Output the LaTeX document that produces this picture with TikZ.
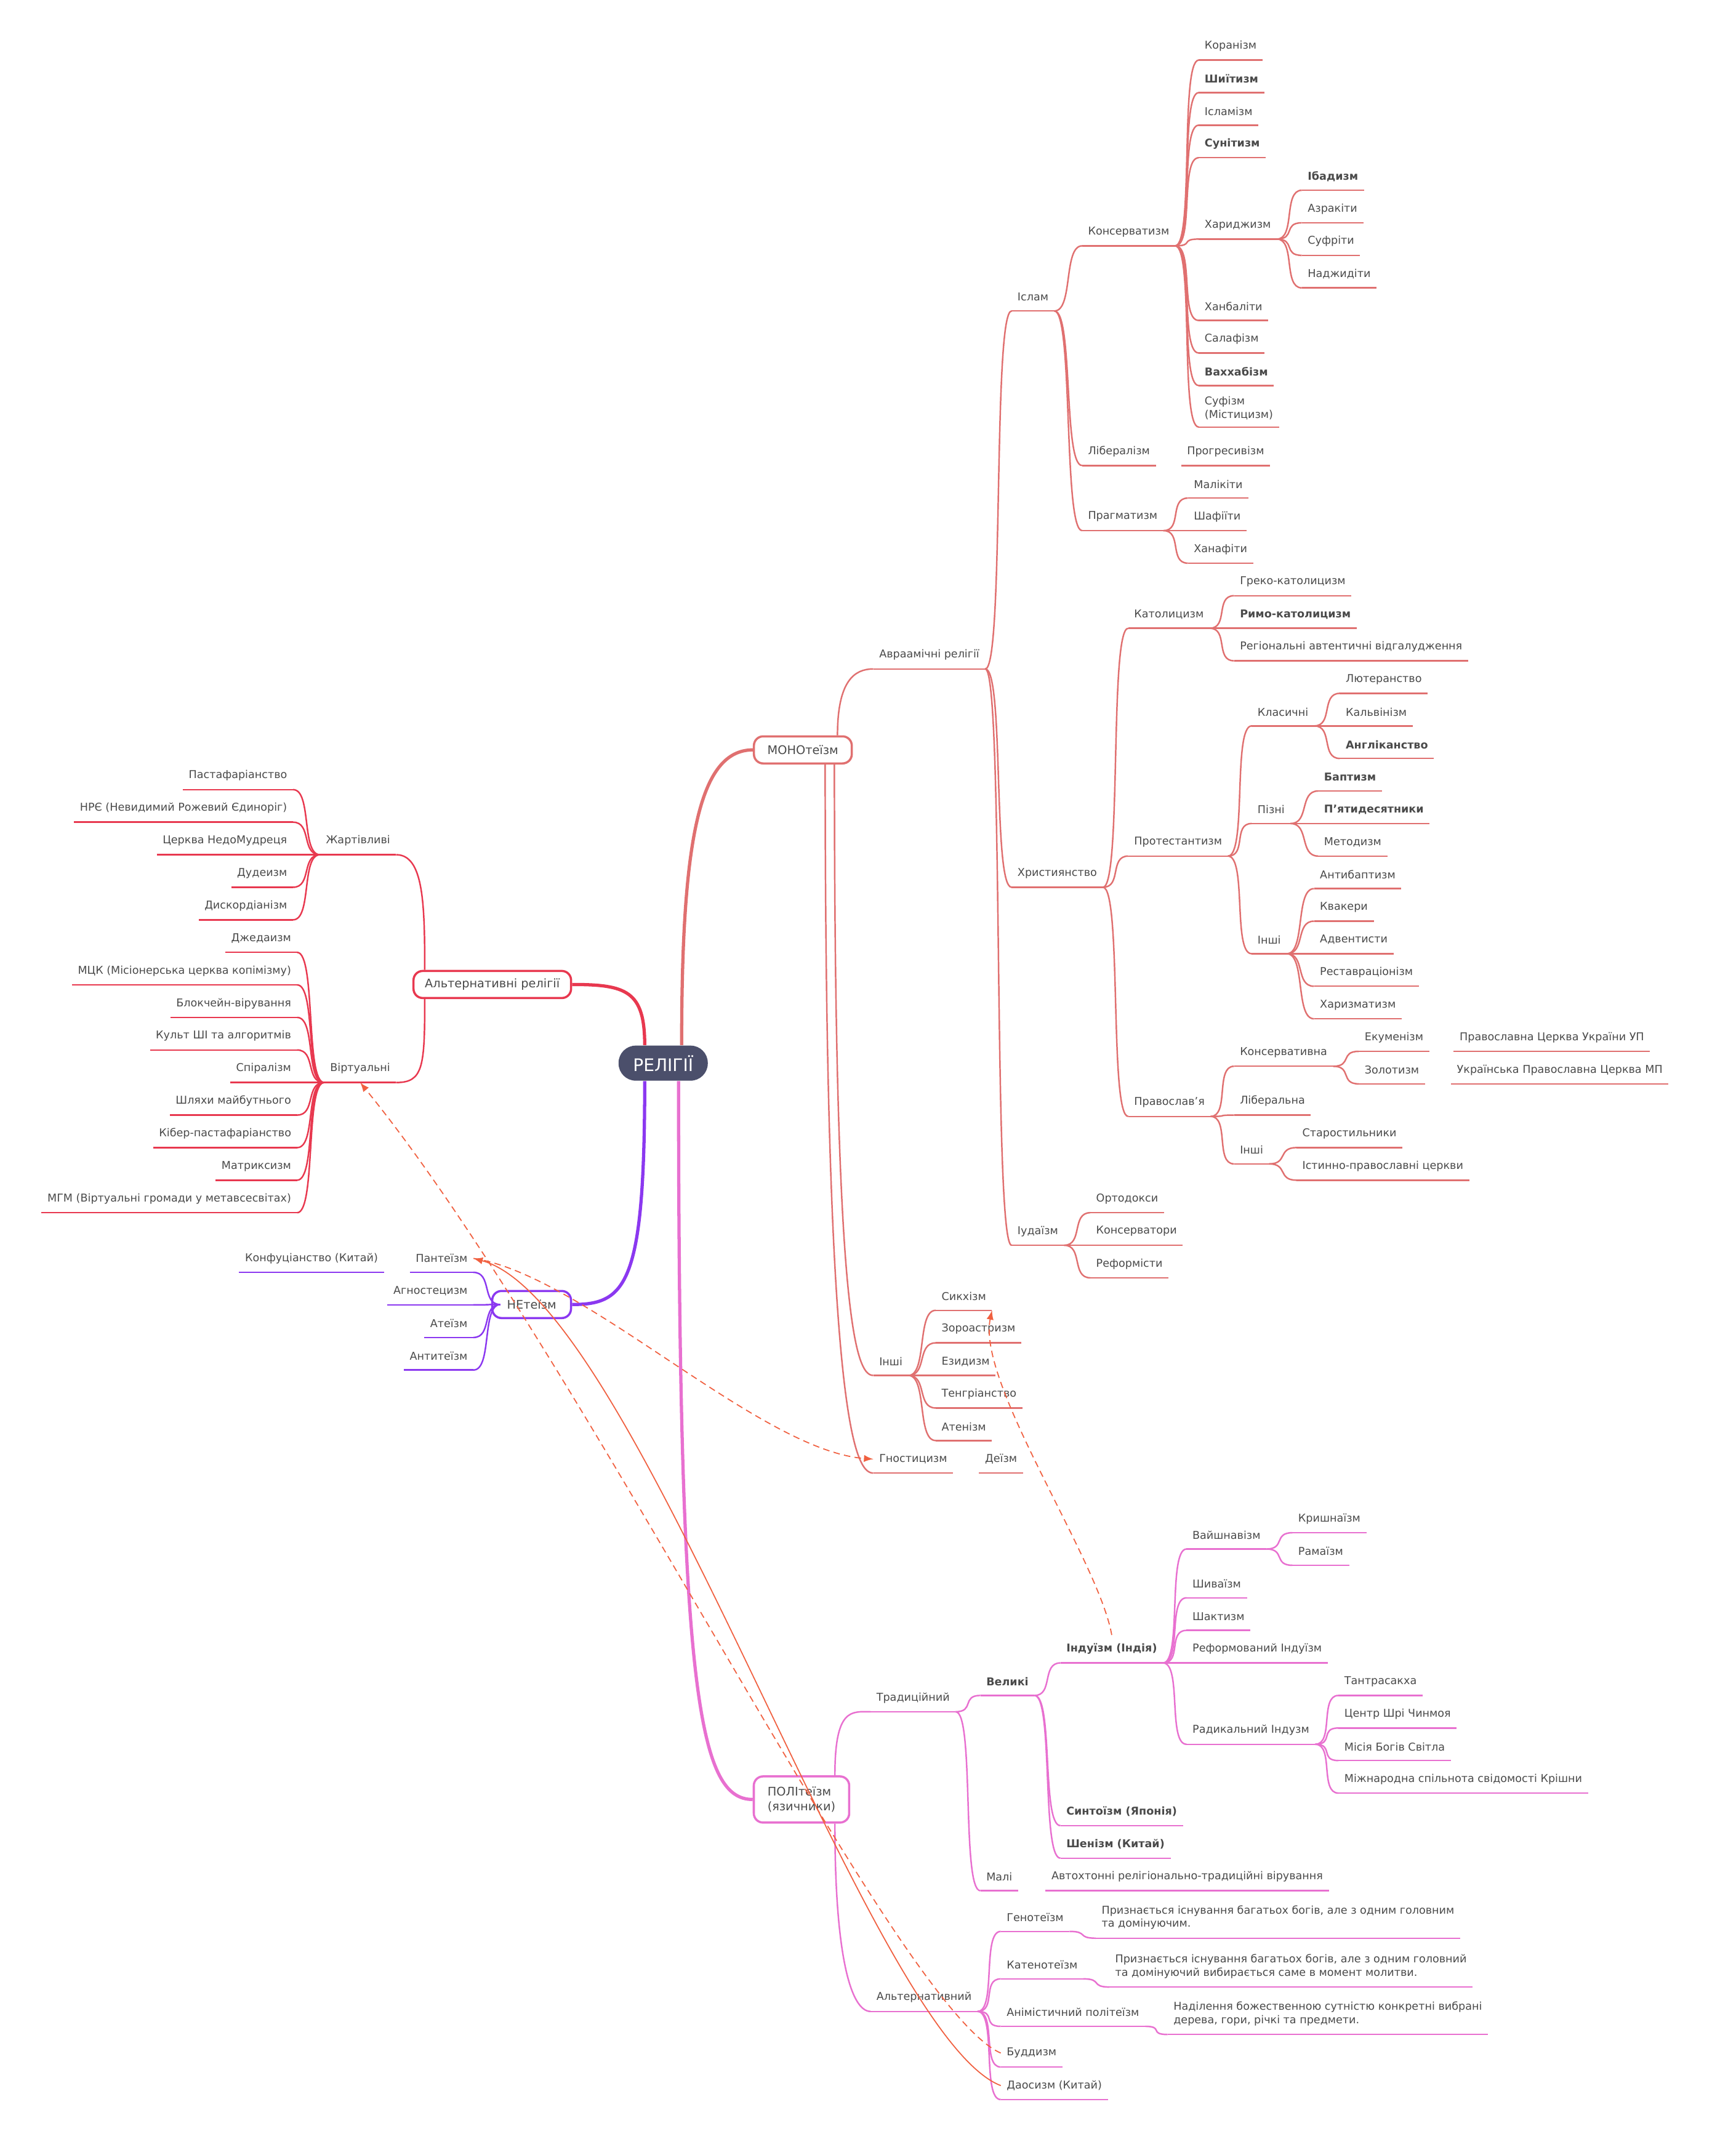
\documentclass[tikz,border=0pt]{standalone}
\usepackage{fontspec}
\setmainfont{DejaVu Sans}
\usetikzlibrary{positioning}
\definecolor{mono}{HTML}{E07070}
\definecolor{alt}{HTML}{E8384F}
\definecolor{ne}{HTML}{8B38F0}
\definecolor{poli}{HTML}{E870D0}
\definecolor{txt}{HTML}{4A4A4A}
\definecolor{core}{HTML}{4B4F6B}
\definecolor{rel}{HTML}{F06040}
\tikzset{
  it/.style={anchor=west, xshift=-0.09cm, inner xsep=0.09cm, inner ysep=0pt, minimum height=0.44cm,
    text=txt, font=\fontsize{5}{6.2}\selectfont, align=left,
    append after command={(\tikzlastnode.south west) edge[draw=#1, line width=0.7pt] (\tikzlastnode.south east)}},
  lt/.style={it=#1, anchor=east, xshift=0.18cm},
  box/.style={draw=#1, line width=1pt, rounded corners=0.15cm, fill=white, minimum height=0.44cm,
    text=txt, font=\fontsize{5.5}{6.8}\selectfont, align=left},
  ln/.style={draw=#1, line width=0.7pt},
  lk/.style={draw=rel, line width=0.5pt, dash pattern=on 3pt off 2pt},
  rt/.style={to path={.. controls +(14,0) and +(-14,0) .. (\tikztotarget)}},
  lf/.style={to path={.. controls +(-14,0) and +(14,0) .. (\tikztotarget)}}
}
\begin{document}
\begin{tikzpicture}[x=0.022031cm, y=-0.022031cm]
\useasboundingbox (0,0) rectangle (1280,1589.2);

% main boxes
\node[fill=core, rounded corners=0.28cm, minimum width=1.45cm, minimum height=0.57cm, text=white, font=\fontsize{8}{9}\selectfont] (C) at (489,784) {РЕЛІГІЇ};
\node[box=mono, minimum width=1.59cm] (M) at (592,553) {МОНОтеїзм};
\node[box=alt, minimum width=2.56cm] (A) at (363,726) {Альтернативні релігії};
\node[box=ne, minimum width=1.28cm] (N) at (392,962) {НЕтеїзм};
\node[box=poli, minimum width=1.55cm, minimum height=0.75cm] (P) at (591,1327) {ПОЛІтеїзм\\(язичники)};

\draw[mono, line width=1.5pt] ([xshift=0.3cm]C.north) .. controls +(0,-150) and +(-40,0) .. (M.west);
\draw[alt, line width=1.5pt] ([xshift=-0.3cm]C.north) .. controls +(0,-40) and +(40,0) .. (A.east);
\draw[ne, line width=1.5pt] ([xshift=-0.3cm]C.south) .. controls +(0,150) and +(40,0) .. (N.east);
\draw[poli, line width=1.5pt] ([xshift=0.25cm]C.south) .. controls +(0,450) and +(-40,0) .. (P.west);

% ---------- МОНОтеїзм
\node[it=mono] (av) at (648,483) {Авраамічні релігії};
\node[it=mono] (in) at (648,1004) {Інші};
\node[it=mono] (gn) at (648,1076) {Гностицизм};
\node[it=mono] (de) at (726,1076) {Деїзм};
\draw[ln=mono] ([xshift=-0.25cm]M.north east) .. controls +(0,-40) and +(-14,0) .. (av.south west);
\draw[ln=mono] ([xshift=-0.3cm]M.south east) .. controls +(0,400) and +(-14,0) .. (in.south west);
\draw[ln=mono] ([xshift=-0.45cm]M.south east) .. controls +(0,480) and +(-14,0) .. (gn.south west);

\node[it=mono] (is) at (750,219) {Іслам};
\node[it=mono] (hr) at (750,644) {Християнство};
\node[it=mono] (iu) at (750,908) {Іудаїзм};
\foreach \c in {is,hr,iu} \draw[ln=mono] (av.south east) to[rt] (\c.south west);

% Іслам
\node[it=mono] (ks) at (802,171) {Консерватизм};
\node[it=mono] (lb) at (802,333) {Лібералізм};
\node[it=mono] (pr) at (875,333) {Прогресивізм};
\node[it=mono] (pg) at (802,381) {Прагматизм};
\foreach \c in {ks,lb,pg} \draw[ln=mono] (is.south east) to[rt] (\c.south west);

\node[it=mono] (k1) at (888,34) {Коранізм};
\node[it=mono] (k2) at (888,58) {\textbf{Шиїтизм}};
\node[it=mono] (k3) at (888,82) {Ісламізм};
\node[it=mono] (k4) at (888,106) {\textbf{Сунітизм}};
\node[it=mono] (k5) at (888,166) {Хариджизм};
\node[it=mono] (k6) at (888,226) {Ханбаліти};
\node[it=mono] (k7) at (888,250) {Салафізм};
\node[it=mono] (k8) at (888,274) {\textbf{Ваххабізм}};
\node[it=mono, minimum height=0.6cm] (k9) at (888,301) {Суфізм\\(Містицизм)};
\foreach \c in {k1,k2,k3,k4,k5,k6,k7,k8,k9} \draw[ln=mono] (ks.south east) to[rt] (\c.south west);

\node[it=mono] (h1) at (964,130) {\textbf{Ібадизм}};
\node[it=mono] (h2) at (964,154) {Азракіти};
\node[it=mono] (h3) at (964,178) {Суфріти};
\node[it=mono] (h4) at (964,202) {Наджидіти};
\foreach \c in {h1,h2,h3,h4} \draw[ln=mono] (k5.south east) to[rt] (\c.south west);

\node[it=mono] (p1) at (880,357) {Малікіти};
\node[it=mono] (p2) at (880,381) {Шафіїти};
\node[it=mono] (p3) at (880,405) {Ханафіти};
\foreach \c in {p1,p2,p3} \draw[ln=mono] (pg.south east) to[rt] (\c.south west);

% Християнство
\node[it=mono] (ka) at (836,453) {Католицизм};
\node[it=mono] (pt) at (836,621) {Протестантизм};
\node[it=mono] (pv) at (836,813) {Православ'я};
\foreach \c in {ka,pt,pv} \draw[ln=mono] (hr.south east) to[rt] (\c.south west);

\node[it=mono] (a1) at (914,429) {Греко-католицизм};
\node[it=mono] (a2) at (914,453) {\textbf{Римо-католицизм}};
\node[it=mono] (a3) at (914,477) {Регіональні автентичні відгалудження};
\foreach \c in {a1,a2,a3} \draw[ln=mono] (ka.south east) to[rt] (\c.south west);

\node[it=mono] (cl) at (927,525) {Класичні};
\node[it=mono] (pz) at (927,597) {Пізні};
\node[it=mono] (ot) at (927,693) {Інші};
\foreach \c in {cl,pz,ot} \draw[ln=mono] (pt.south east) to[rt] (\c.south west);

\node[it=mono] (c1) at (992,501) {Лютеранство};
\node[it=mono] (c2) at (992,525) {Кальвінізм};
\node[it=mono] (c3) at (992,549) {\textbf{Англіканство}};
\foreach \c in {c1,c2,c3} \draw[ln=mono] (cl.south east) to[rt] (\c.south west);

\node[it=mono] (z1) at (976,573) {\textbf{Баптизм}};
\node[it=mono] (z2) at (976,597) {\textbf{П'ятидесятники}};
\node[it=mono] (z3) at (976,621) {Методизм};
\foreach \c in {z1,z2,z3} \draw[ln=mono] (pz.south east) to[rt] (\c.south west);

\node[it=mono] (o1) at (973,645) {Антибаптизм};
\node[it=mono] (o2) at (973,669) {Квакери};
\node[it=mono] (o3) at (973,693) {Адвентисти};
\node[it=mono] (o4) at (973,717) {Реставраціонізм};
\node[it=mono] (o5) at (973,741) {Харизматизм};
\foreach \c in {o1,o2,o3,o4,o5} \draw[ln=mono] (ot.south east) to[rt] (\c.south west);

\node[it=mono] (v1) at (914,776) {Консервативна};
\node[it=mono] (v2) at (914,812) {Ліберальна};
\node[it=mono] (v3) at (914,848) {Інші};
\foreach \c in {v1,v2,v3} \draw[ln=mono] (pv.south east) to[rt] (\c.south west);

\node[it=mono] (e1) at (1006,765) {Екуменізм};
\node[it=mono] (e1b) at (1076,765) {Православна Церква України УП};
\node[it=mono] (e2) at (1006,789) {Золотизм};
\node[it=mono] (e2b) at (1074,789) {Українська Православна Церква МП};
\foreach \c in {e1,e2} \draw[ln=mono] (v1.south east) to[rt] (\c.south west);

\node[it=mono] (s1) at (960,836) {Старостильники};
\node[it=mono] (s2) at (960,860) {Істинно-православні церкви};
\foreach \c in {s1,s2} \draw[ln=mono] (v3.south east) to[rt] (\c.south west);

% Іудаїзм
\node[it=mono] (j1) at (808,884) {Ортодокси};
\node[it=mono] (j2) at (808,908) {Консерватори};
\node[it=mono] (j3) at (808,932) {Реформісти};
\foreach \c in {j1,j2,j3} \draw[ln=mono] (iu.south east) to[rt] (\c.south west);

% Інші
\node[it=mono] (i1) at (694,956) {Сикхізм};
\node[it=mono] (i2) at (694,980) {Зороастризм};
\node[it=mono] (i3) at (694,1004) {Езидизм};
\node[it=mono] (i4) at (694,1028) {Тенгріанство};
\node[it=mono] (i5) at (694,1052) {Атенізм};
\foreach \c in {i1,i2,i3,i4,i5} \draw[ln=mono] (in.south east) to[rt] (\c.south west);

% ---------- Альтернативні релігії
\node[lt=alt] (zh) at (288,620) {Жартівливі};
\node[lt=alt] (vr) at (288,788) {Віртуальні};
\draw[ln=alt] ([xshift=0.2cm]A.north west) .. controls +(0,-50) and +(20,0) .. (zh.south east);
\draw[ln=alt] ([xshift=0.2cm]A.south west) .. controls +(0,50) and +(20,0) .. (vr.south east);

\node[lt=alt] (x1) at (212,572) {Пастафаріанство};
\node[lt=alt] (x2) at (212,596) {НРЄ (Невидимий Рожевий Єдиноріг)};
\node[lt=alt] (x3) at (212,620) {Церква НедоМудреця};
\node[lt=alt] (x4) at (212,644) {Дудеизм};
\node[lt=alt] (x5) at (212,668) {Дискордіанізм};
\foreach \c in {x1,x2,x3,x4,x5} \draw[ln=alt] (zh.south west) to[lf] (\c.south east);

\node[lt=alt] (y1) at (215,692) {Джедаизм};
\node[lt=alt] (y2) at (215,716) {МЦК (Місіонерська церква копімізму)};
\node[lt=alt] (y3) at (215,740) {Блокчейн-вірування};
\node[lt=alt] (y4) at (215,764) {Культ ШІ та алгоритмів};
\node[lt=alt] (y5) at (215,788) {Спіралізм};
\node[lt=alt] (y6) at (215,812) {Шляхи майбутнього};
\node[lt=alt] (y7) at (215,836) {Кібер-пастафаріанство};
\node[lt=alt] (y8) at (215,860) {Матриксизм};
\node[lt=alt] (y9) at (215,884) {МГМ (Віртуальні громади у метавсесвітах)};
\foreach \c in {y1,y2,y3,y4,y5,y6,y7,y8,y9} \draw[ln=alt] (vr.south west) to[lf] (\c.south east);

% ---------- НЕтеїзм
\node[lt=ne] (n1) at (345,928) {Пантеїзм};
\node[lt=ne] (n1b) at (279,928) {Конфуціанство (Китай)};
\node[lt=ne] (n2) at (345,952) {Агностецизм};
\node[lt=ne] (n3) at (345,976) {Атеїзм};
\node[lt=ne] (n4) at (345,1000) {Антитеїзм};
\foreach \c in {n1,n2,n3,n4} \draw[ln=ne] ([xshift=0.15cm]N.west) to[lf] (\c.south east);

% ---------- ПОЛІтеїзм
\node[it=poli] (tr) at (646,1252) {Традиційний};
\node[it=poli] (al) at (646,1473) {Альтернативний};
\draw[ln=poli] ([xshift=-0.25cm]P.north east) .. controls +(0,-50) and +(-14,0) .. (tr.south west);
\draw[ln=poli] ([xshift=-0.25cm]P.south east) .. controls +(0,100) and +(-14,0) .. (al.south west);

\node[it=poli] (vl) at (727,1240) {\textbf{Великі}};
\node[it=poli] (ml) at (727,1384) {Малі};
\node[it=poli] (mlb) at (775,1384) {Автохтонні релігіонально-традиційні вірування};
\foreach \c in {vl,ml} \draw[ln=poli] (tr.south east) to[rt] (\c.south west);

\node[it=poli] (hi) at (786,1216) {\textbf{Індуїзм (Індія)}};
\node[it=poli] (sh) at (786,1336) {\textbf{Синтоїзм (Японія)}};
\node[it=poli] (se) at (786,1360) {\textbf{Шенізм (Китай)}};
\foreach \c in {hi,sh,se} \draw[ln=poli] (vl.south east) to[rt] (\c.south west);

\node[it=poli] (u1) at (879,1132) {Вайшнавізм};
\node[it=poli] (u2) at (879,1168) {Шиваїзм};
\node[it=poli] (u3) at (879,1192) {Шактизм};
\node[it=poli] (u4) at (879,1216) {Реформований Індуїзм};
\node[it=poli] (u5) at (879,1276) {Радикальний Індузм};
\foreach \c in {u1,u2,u3,u4,u5} \draw[ln=poli] (hi.south east) to[rt] (\c.south west);

\node[it=poli] (w1) at (957,1120) {Кришнаїзм};
\node[it=poli] (w2) at (957,1144) {Рамаїзм};
\foreach \c in {w1,w2} \draw[ln=poli] (u1.south east) to[rt] (\c.south west);

\node[it=poli] (r1) at (991,1240) {Тантрасакха};
\node[it=poli] (r2) at (991,1264) {Центр Шрі Чинмоя};
\node[it=poli] (r3) at (991,1288) {Місія Богів Світла};
\node[it=poli] (r4) at (991,1312) {Міжнародна спільнота свідомості Крішни};
\foreach \c in {r1,r2,r3,r4} \draw[ln=poli] (u5.south east) to[rt] (\c.south west);

\node[it=poli] (g1) at (742,1414) {Генотеїзм};
\node[it=poli] (g2) at (742,1449) {Катенотеїзм};
\node[it=poli] (g3) at (742,1484) {Анімістичний політеїзм};
\node[it=poli] (g4) at (742,1514) {Буддизм};
\node[it=poli] (g5) at (742,1538) {Даосизм (Китай)};
\foreach \c in {g1,g2,g3,g4,g5} \draw[ln=poli] (al.south east) to[rt] (\c.south west);

\node[it=poli, minimum height=0.66cm] (d1) at (812,1414) {Признається існування багатьох богів, але з одним головним\\та домінуючим.};
\node[it=poli, minimum height=0.66cm] (d2) at (822,1450) {Признається існування багатьох богів, але з одним головний\\та домінуючий вибирається саме в момент молитви.};
\node[it=poli, minimum height=0.66cm] (d3) at (865,1485) {Наділення божественною сутністю конкретні вибрані\\дерева, гори, річкі та предмети.};
\draw[ln=poli] (g1.south east) to[rt] (d1.south west);
\draw[ln=poli] (g2.south east) to[rt] (d2.south west);
\draw[ln=poli] (g3.south east) to[rt] (d3.south west);

% cross links
\draw[lk, ->, >=latex] (g4.west) .. controls (660,1480) and (430,1000) .. (vr.south);
\draw[rel, line width=0.5pt, ->, >=latex] (g5.west) .. controls (640,1500) and (470,960) .. (n1.east);
\draw[lk, ->, >=latex] (n1.east) .. controls (430,940) and (560,1070) .. (gn.west);
\draw[lk, ->, >=latex] (hi.north) .. controls (810,1150) and (720,1020) .. (i1.south east);
\end{tikzpicture}
\end{document}
